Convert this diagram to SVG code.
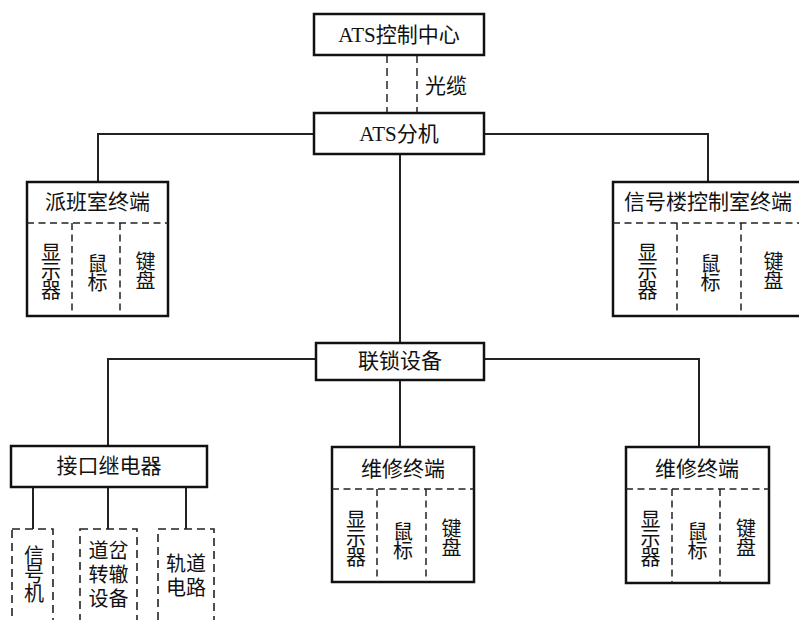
<svg xmlns="http://www.w3.org/2000/svg" width="799" height="620" viewBox="0 0 799 620">
<style>
.box{fill:#fff;stroke:#111;stroke-width:2.5}
.dbox{fill:#fff;stroke:#222;stroke-width:1.6;stroke-dasharray:8 5}
.dl{fill:none;stroke:#222;stroke-width:1.5;stroke-dasharray:7 4.5}
.cn{fill:none;stroke:#222;stroke-width:2}
.cd{fill:none;stroke:#333;stroke-width:1.6;stroke-dasharray:8 5}
text{font-family:"Liberation Serif","Noto Sans CJK SC",serif;font-size:21px;fill:#111;text-anchor:middle;dominant-baseline:central}
.v{writing-mode:vertical-rl;letter-spacing:-1px;font-size:20px}
.s{font-size:20px}
</style>
<rect width="799" height="620" fill="#fff"/>
<g id="connectors">
<path class="cd" d="M387 55V113M417 55V113"/>
<path class="cn" d="M314 134H98V182M484 134H708V182"/>
<path class="cn" d="M400 154V343"/>
<path class="cn" d="M316 359H108V446M484 359H699V447"/>
<path class="cn" d="M400 380V447"/>
<path class="cn" d="M33 487V529M108 487V529M186 487V529"/>
</g>
<g id="cable-label"><text x="446" y="86">光缆</text></g>
<g id="ats-center">
<rect class="box" x="314" y="14" width="170" height="41"/>
<text x="399" y="35">ATS控制中心</text>
</g>
<g id="ats-sub">
<rect class="box" x="314" y="113" width="170" height="41"/>
<text x="399" y="134">ATS分机</text>
</g>
<g id="dispatch-terminal">
<rect class="box" x="27" y="182" width="141" height="134"/>
<path class="dl" d="M27 223H168M72 223V316M120 223V316"/>
<text x="97.5" y="202">派班室终端</text>
<text class="v" x="49.5" y="271">显示器</text>
<text class="v" x="96" y="272">鼠标</text>
<text class="v" x="144" y="270">键盘</text>
</g>
<g id="signal-building-terminal">
<rect class="box" x="613" y="182" width="190" height="134"/>
<path class="dl" d="M613 223H803M677 223V316M741 223V316"/>
<text x="708" y="202">信号楼控制室终端</text>
<text class="v" x="646" y="271">显示器</text>
<text class="v" x="709" y="272">鼠标</text>
<text class="v" x="772" y="270">键盘</text>
</g>
<g id="interlocking">
<rect class="box" x="316" y="343" width="168" height="37"/>
<text x="400" y="361">联锁设备</text>
</g>
<g id="interface-relay">
<rect class="box" x="11" y="446" width="196" height="41"/>
<text x="109" y="466">接口继电器</text>
</g>
<g id="signal-machine">
<rect class="dbox" x="12" y="529" width="41" height="100"/>
<text class="v" x="32.5" y="574">信号机</text>
</g>
<g id="switch-device">
<rect class="dbox" x="80" y="529" width="57" height="100"/>
<text class="s" x="108.5" y="551">道岔</text><text class="s" x="108.5" y="575">转辙</text><text class="s" x="108.5" y="599">设备</text>
</g>
<g id="track-circuit">
<rect class="dbox" x="158" y="529" width="56" height="100"/>
<text class="s" x="186" y="564">轨道</text><text class="s" x="186" y="588">电路</text>
</g>
<g id="maint-terminal-1">
<rect class="box" x="332" y="447" width="142" height="135"/>
<path class="dl" d="M332 489H474M377 489V582M426 489V582"/>
<text x="403" y="469">维修终端</text>
<text class="v" x="354.5" y="538">显示器</text>
<text class="v" x="401.5" y="540">鼠标</text>
<text class="v" x="450" y="537">键盘</text>
</g>
<g id="maint-terminal-2">
<rect class="box" x="626" y="447" width="143" height="136"/>
<path class="dl" d="M626 489H769M672 489V583M720 489V583"/>
<text x="697" y="469">维修终端</text>
<text class="v" x="649" y="538">显示器</text>
<text class="v" x="696" y="540">鼠标</text>
<text class="v" x="744.5" y="537">键盘</text>
</g>
</svg>
